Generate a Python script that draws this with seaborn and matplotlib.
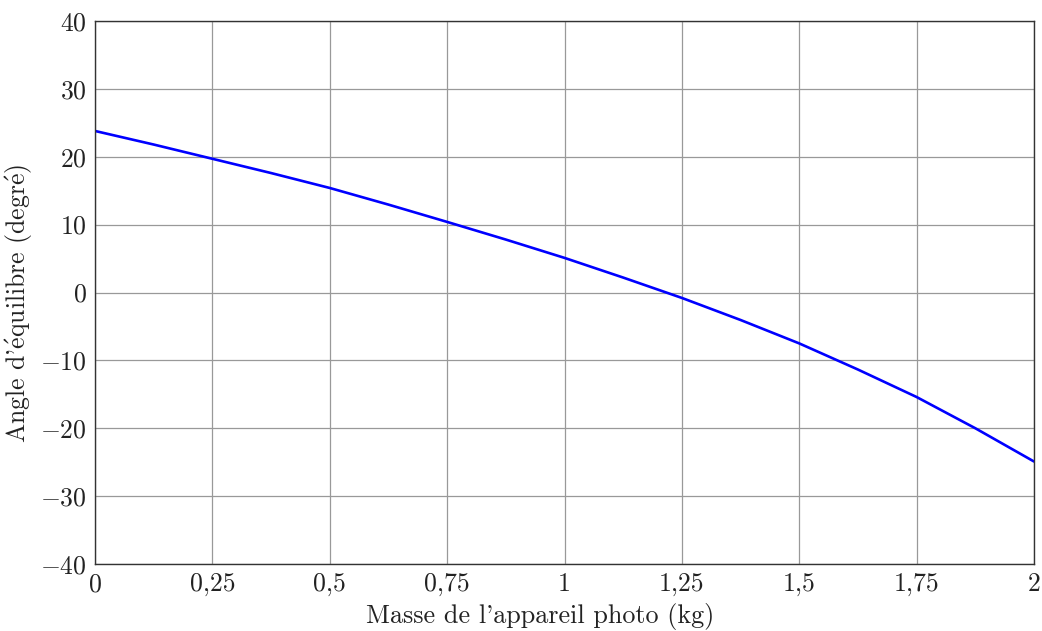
import numpy as np
import pandas as pd
import matplotlib
matplotlib.use("Agg")
import matplotlib.pyplot as plt
import seaborn as sns
from matplotlib.ticker import FixedLocator, FuncFormatter

# -----------------------------
# Data
# -----------------------------
masse = [0, 0.125, 0.25, 0.375, 0.5, 0.625, 0.75, 0.875, 1.0,
         1.125, 1.25, 1.375, 1.5, 1.625, 1.75, 1.875, 2.0]
angle = [23.8, 21.8, 19.7, 17.6, 15.4, 12.95, 10.4, 7.8, 5.1,
         2.2, -0.8, -4.05, -7.5, -11.35, -15.4, -20.0, -24.9]

x_ticks = [0, 0.25, 0.5, 0.75, 1, 1.25, 1.5, 1.75, 2]
y_ticks = [-40, -30, -20, -10, 0, 10, 20, 30, 40]

df = pd.DataFrame({"masse": masse, "angle": angle})

# -----------------------------
# Style (pgfplots look)
# -----------------------------
sns.set_style("whitegrid")
plt.rcParams["font.family"] = ["cmr10", "DejaVu Serif"]
plt.rcParams["mathtext.fontset"] = "cm"
plt.rcParams["axes.formatter.use_mathtext"] = True

fig = plt.figure(figsize=(10.42, 6.31), dpi=100)
ax = fig.add_axes([95 / 1042, 1 - 564 / 631, (1034 - 95) / 1042, (564 - 21) / 631])

sns.lineplot(data=df, x="masse", y="angle", ax=ax, color="#0000ff", linewidth=1.9)

ax.set_xlim(0, 2)
ax.set_ylim(-40, 40)
ax.xaxis.set_major_locator(FixedLocator(x_ticks))
ax.yaxis.set_major_locator(FixedLocator(y_ticks))
ax.xaxis.set_major_formatter(FuncFormatter(lambda v, p: f"{v:g}".replace(".", ",")))
ax.yaxis.set_major_formatter(FuncFormatter(lambda v, p: f"${v:g}$"))

ax.grid(True, color="#999999", linewidth=0.9)
for s in ax.spines.values():
    s.set_color("#333333")
    s.set_linewidth(1.0)
ax.tick_params(axis="both", length=0, labelsize=18.5, colors="#222222")
ax.tick_params(axis="y", pad=6)
ax.tick_params(axis="x", pad=6)

ax.set_xlabel("Masse de l'appareil photo (kg)", fontsize=18.8, color="#222222")
ax.xaxis.set_label_coords(0.474, -0.071)
ax.set_ylabel(r"Angle d'$\acute{\mathrm{e}}$quilibre (degr$\acute{\mathrm{e}}$)",
              fontsize=18.5, color="#222222")
ax.yaxis.set_label_coords(-0.064, 0.479)

fig.savefig("out.png", dpi=100)
